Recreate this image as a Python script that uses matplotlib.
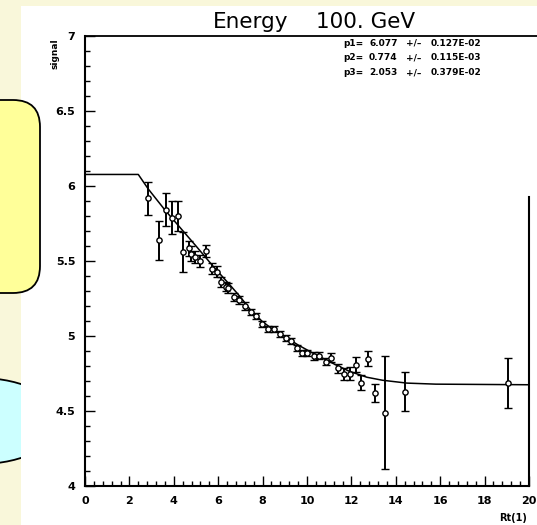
import matplotlib.pyplot as plt
from matplotlib.patches import FancyBboxPatch, Ellipse, Rectangle
from matplotlib.ticker import MultipleLocator

rt = [2.82, 3.33, 3.65, 3.93, 4.19, 4.40, 4.67, 4.78, 4.96, 5.20,
      5.44, 5.71, 5.94, 6.14, 6.33, 6.46, 6.71, 6.94, 7.22, 7.48,
      7.71, 7.99, 8.25, 8.53, 8.79, 9.06, 9.28, 9.55, 9.78, 10.0,
      10.3, 10.55, 10.86, 11.09, 11.4, 11.65, 11.92, 12.22, 12.45, 12.75,
      13.06, 13.5, 14.41, 19.05]
signal = [5.918, 5.64, 5.843, 5.79, 5.80, 5.56, 5.585, 5.55, 5.53, 5.50,
          5.57, 5.45, 5.43, 5.36, 5.33, 5.32, 5.26, 5.24, 5.20, 5.157,
          5.135, 5.08, 5.05, 5.045, 5.016, 4.984, 4.966, 4.92, 4.89, 4.89,
          4.865, 4.87, 4.83, 4.855, 4.785, 4.745, 4.75, 4.808, 4.688, 4.85,
          4.62, 4.49, 4.628, 4.686]
err = [0.11, 0.13, 0.11, 0.11, 0.10, 0.135, 0.05, 0.05, 0.04, 0.04,
       0.04, 0.035, 0.035, 0.03, 0.03, 0.03, 0.025, 0.025, 0.025, 0.02,
       0.02, 0.02, 0.02, 0.02, 0.02, 0.02, 0.02, 0.02, 0.02, 0.02,
       0.025, 0.025, 0.025, 0.03, 0.03, 0.04, 0.045, 0.05, 0.05, 0.05,
       0.06, 0.375, 0.13, 0.165]

# fitted curve, traced
fit_rt = [0, 2.4, 2.85, 3.6, 4.3, 5.0, 5.8, 6.5, 7.0, 7.5, 8.0, 8.5, 8.9,
          9.6, 10.4, 11.2, 11.9, 12.7, 13.4, 14.5, 15.8, 20]
fit_signal = [6.077, 6.077, 5.98, 5.84, 5.72, 5.60, 5.46, 5.345, 5.26, 5.165,
              5.095, 5.04, 5.005, 4.94, 4.875, 4.815, 4.765, 4.725, 4.705,
              4.686, 4.679, 4.675]

par_names = ["p1=", "p2=", "p3="]
par_values = ["6.077", "0.774", "2.053"]
par_errors = ["0.127E-02", "0.115E-03", "0.379E-02"]

y_ticks = [4, 4.5, 5, 5.5, 6, 6.5, 7]
y_labels = ["4", "4.5", "5", "5.5", "6", "6.5", "7"]

plt.rcParams['font.family'] = 'DejaVu Sans'

fig = plt.figure(figsize=(5.37, 5.25), dpi=100)
fig.patch.set_facecolor("#f9f7da")

# slide background, in pixel units
bg = fig.add_axes([0, 0, 1, 1])
bg.set_xlim(0, 537)
bg.set_ylim(525, 0)
bg.axis("off")
bg.add_patch(Ellipse((-20, 421), 160, 86, fc="#ccffff", ec="black", lw=1.3))
bg.add_patch(Rectangle((21, 6), 530, 530, fc="white", ec="none"))
bg.add_patch(FancyBboxPatch((-60, 100), 100, 193,
                            boxstyle="round,pad=0,rounding_size=27",
                            fc="#ffff99", ec="black", lw=1.3))

# title and labels
bg.text(213, 28, "Energy", fontsize=15.5, ha="left", va="baseline")
bg.text(316, 28, "100. GeV", fontsize=15.5, ha="left", va="baseline")
bg.text(55, 54, "signal", rotation=90, fontsize=6.5, fontweight="bold",
        ha="center", va="center")
bg.text(513, 518, "Rt(1)", fontsize=7, fontweight="bold",
        ha="center", va="center")

# fit parameters
for i in range(3):
    yy = 46 + i * 14.5
    bg.text(343, yy, par_names[i], fontsize=6.5, fontweight="bold", va="baseline")
    bg.text(369, yy, par_values[i], fontsize=6.5, fontweight="bold", va="baseline")
    bg.text(406, yy, "+/\u2013", fontsize=6.5, fontweight="bold", va="baseline")
    bg.text(431, yy, par_errors[i], fontsize=6.5, fontweight="bold", va="baseline")

# main plot
ax = fig.add_axes([85 / 537, 1 - 486 / 525, 444 / 537, 450 / 525])
ax.set_facecolor("none")
ax.set_xlim(0, 20)
ax.set_ylim(4, 7)

ax.plot(fit_rt, fit_signal, color="black", lw=1.1, zorder=2)
ax.errorbar(rt, signal, yerr=err, fmt="o", ms=3.8, mfc="white", mec="black",
            mew=1.0, ecolor="black", elinewidth=1.4, capsize=3, capthick=1.3,
            zorder=3)

ax.xaxis.set_major_locator(MultipleLocator(2))
ax.xaxis.set_minor_locator(MultipleLocator(0.4))
ax.set_yticks(y_ticks)
ax.set_yticklabels(y_labels)
ax.yaxis.set_minor_locator(MultipleLocator(0.1))
ax.tick_params(which="both", direction="in", top=False, right=False, width=1)
ax.tick_params(which="major", length=7, labelsize=8, pad=7)
ax.tick_params(which="minor", length=3.5)
for lbl in ax.get_xticklabels() + ax.get_yticklabels():
    lbl.set_fontweight("bold")

for side in ["top", "right"]:
    ax.spines[side].set_visible(False)
for side in ["left", "bottom"]:
    ax.spines[side].set_linewidth(1.5)

# frame pieces as they appear in the scan
ax.plot([0, 20.4], [7, 7], color="black", lw=1.3, clip_on=False)
ax.plot([20, 20], [4, 5.93], color="black", lw=1.5, clip_on=False)

fig.savefig("out.png", dpi=100, facecolor=fig.get_facecolor())
